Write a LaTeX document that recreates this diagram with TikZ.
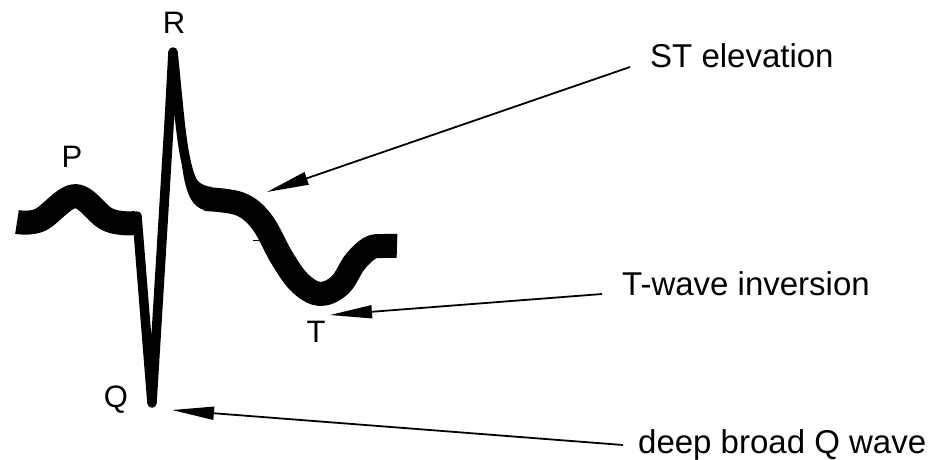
\documentclass[tikz,border=0pt]{standalone}
\usepackage{fontspec}
\setmainfont{Liberation Sans}
\usetikzlibrary{arrows.meta}
\begin{document}
\begin{tikzpicture}[x=1pt,y=-1pt,
  wave/.style={line width=24pt, line join=round, line cap=butt},
  qrs/.style={line width=9.5pt, line join=round, line cap=round},
  arr/.style={line width=1.8pt, -{Triangle[length=42pt,width=13pt]}},
  lbl/.style={inner sep=0pt, font=\fontsize{33}{36}\selectfont, anchor=base west},
  wlbl/.style={inner sep=0pt, font=\fontsize{31}{34}\selectfont, anchor=base}]
\useasboundingbox (0,0) rectangle (935,459);
% P wave
\draw[wave] plot[smooth, tension=0.6] coordinates {(17,222) (40,220) (75,196) (105,218) (122,223) (136,223)};
% QRS complex
\draw[qrs] (137,216) -- (152,403) -- (169,125) -- (173,52) .. controls (180,118) and (182,168) .. (196,188);
% junction R -> ST
\fill (182,165) .. controls (186,198) and (194,211) .. (212,211) -- (212,187)
  .. controls (200,186) and (192,178) .. (191,165) -- cycle;
% ST segment and inverted T wave
\draw[wave] plot[smooth, tension=0.6] coordinates {(205,199) (240,204) (262,222) (282,258) (300,283) (320,294) (340,285) (355,262) (370,248) (383,246) (397,246)};
\draw[line width=1pt] (253,240) -- (259,240);
% wave letters
\node[wlbl] (R) at (174,33) {R};
\node[wlbl] (P) at (72,167) {P};
\node[wlbl] (T) at (316,342) {T};
\node[wlbl] (Q) at (116,407) {Q};
% annotations
\node[lbl] (st) at (650,67) {ST elevation};
\node[lbl] (tw) at (622,295) {T-wave inversion};
\node[lbl] (qw) at (638,453) {deep broad Q wave};
\coordinate (stA) at (630,67);
\coordinate (stTip) at (267,192);
\coordinate (twA) at (602,294);
\coordinate (twTip) at (330,315);
\coordinate (qwA) at (623,445);
\coordinate (qwTip) at (172,410);
\draw[arr] (stA) -- (stTip);
\draw[arr] (twA) -- (twTip);
\draw[arr] (qwA) -- (qwTip);
\end{tikzpicture}
\end{document}
